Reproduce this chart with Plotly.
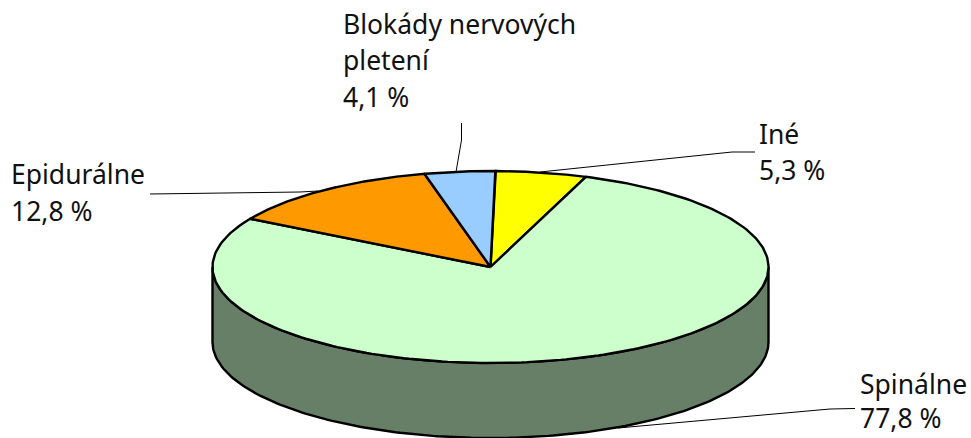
import numpy as np
import plotly.graph_objects as go

categories = ["Iné", "Spinálne", "Epidurálne", "Blokády nervových|pletení"]
values = [5.3, 77.8, 12.8, 4.1]
value_labels = ["5,3 %", "77,8 %", "12,8 %", "4,1 %"]
top_colors = ["#FFFF00", "#CCFFCC", "#FF9900", "#99CCFF"]
SIDE_COLOR = "#667F66"

CX, CY, RX, RY, DEPTH = 490.5, 267, 278, 96, 75
START_DEG = 1.0
FONT = "Noto Sans"
LINE = dict(color="black", width=2.4)


def ell(theta_deg, dy=0):
    t = np.radians(theta_deg)
    return CX + RX * np.sin(t), CY - RY * np.cos(t) + dy


fig = go.Figure()

# side wall: visible front half of the rim (theta 90..270)
ta = np.linspace(90, 270, 181)
x_top, y_top = ell(ta)
x_bot, y_bot = ell(ta, DEPTH)
fig.add_trace(go.Scatter(
    x=np.r_[x_top, x_bot[::-1], x_top[0]], y=np.r_[y_top, y_bot[::-1], y_top[0]],
    mode="lines", fill="toself", fillcolor=SIDE_COLOR, line=LINE, hoverinfo="skip"))

# top slices, driven by the values
bounds = START_DEG + np.r_[0, np.cumsum(values)] * 3.6
for i, col in enumerate(top_colors):
    t = np.linspace(bounds[i], bounds[i + 1], 240)
    x, y = ell(t)
    fig.add_trace(go.Scatter(
        x=np.r_[CX, x, CX], y=np.r_[CY, y, CY], mode="lines", fill="toself",
        fillcolor=col, line=LINE, name=categories[i].replace("|", " "), hoverinfo="name"))

# leader lines
leaders = [
    ([755, 732, 540], [152, 152, 172]),
    ([855, 830, 618], [408.5, 409, 428]),
    ([150, 300, 318], [194, 192, 191]),
    ([461.5, 461.5, 456], [123, 140, 172]),
]
for lx, ly in leaders:
    fig.add_trace(go.Scatter(x=lx, y=ly, mode="lines", line=dict(color="black", width=1), hoverinfo="skip"))

# labels: one annotation per text line, so the line pitch follows the reference
label_pos = [(757, [134], 170), (858, None, None), (9, [174], 211), (341, [24, 60], 97)]
text_font = dict(family=FONT, size=26.5, color="#111111")
for (lx, ys, yv), cat, vl in zip(label_pos, categories, value_labels):
    if ys is None:  # bottom label: one block, kept inside the page
        fig.add_annotation(x=lx, y=438, text=f"{cat}<br>{vl}", showarrow=False, xanchor="left",
                           yanchor="bottom", align="left", font=text_font)
        continue
    for yy, line in zip(ys, cat.split("|")):
        fig.add_annotation(x=lx, y=yy, text=line, showarrow=False, xanchor="left", yanchor="middle",
                           font=text_font)
    fig.add_annotation(x=lx, y=yv, text=vl, showarrow=False, xanchor="left", yanchor="middle",
                       font=text_font)

fig.update_layout(
    width=971, height=438, margin=dict(l=0, r=0, t=0, b=0), showlegend=False,
    paper_bgcolor="white", plot_bgcolor="white",
    xaxis=dict(range=[0, 971], visible=False, fixedrange=True),
    yaxis=dict(range=[438, 0], visible=False, fixedrange=True),
)
fig.write_html("out.html", post_script="document.body.style.margin='0';document.body.style.overflow='hidden';",
               config={"displayModeBar": False})
